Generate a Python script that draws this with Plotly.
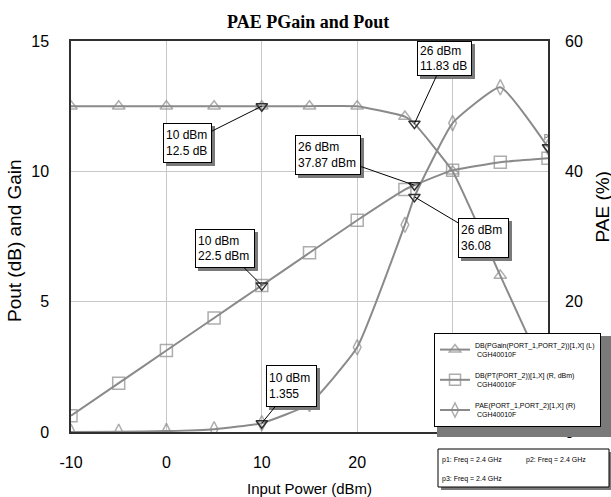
import plotly.graph_objects as go

# ---------------- data ----------------
chart_title = "PAE PGain and Pout"
pin_dbm = [-10, -5, 0, 5, 10, 15, 20, 25, 26, 30, 35, 40]
gain_db = [12.5, 12.5, 12.5, 12.5, 12.5, 12.5, 12.5, 12.1, 11.83, 10.0, 6.0, 2.0]
pout_dbm = [2.5, 7.5, 12.5, 17.5, 22.5, 27.5, 32.5, 37.2, 37.87, 40.15, 41.4, 42.0]
pae_pct = [0.014, 0.043, 0.136, 0.43, 1.355, 4.3, 13.0, 31.8, 36.08, 47.4, 52.9, 43.7]
symbol_at = [-10, -5, 0, 5, 10, 15, 20, 25, 30, 35, 40]

mk_pin = [10, 26]
mk_gain = [12.5, 11.83]
mk_pout = [22.5, 37.87]
mk_pae = [1.355, 36.08]
p3_pin = [40]
p3_pae = [43.7]

x_ticks = [-10, 0, 10, 20, 30, 40]
x_ticktext = ["-10", "0", "10", "20", "", ""]
y_left_ticks = [0, 5, 10, 15]
y_right_ticks = [0, 20, 40, 60]

legend_names = [
    "DB(PGain(PORT_1,PORT_2))[1,X] (L)<br> CGH40010F",
    "DB(PT(PORT_2))[1,X] (R, dBm)<br> CGH40010F",
    "PAE(PORT_1,PORT_2)[1,X] (R)<br> CGH40010F",
]
freq_text = ["p1: Freq = 2.4 GHz", "p2: Freq = 2.4 GHz", "p3: Freq = 2.4 GHz"]

# ---------------- layout helpers ----------------
W, H = 611, 497
L, R, T, B = 71, 63, 41, 65
PW, PH = W - L - R, H - T - B


def px(xp):
    return (xp - L) / PW


def py(yp):
    return (H - B - yp) / PH


SANS = "Liberation Sans, Arial, sans-serif"
SERIF = "Liberation Serif, Times New Roman, serif"
GRAY = "#8a8a8a"
DARK = "#303030"
SHADOW = "#7a7a7a"

sizes = [1 if p in symbol_at else 0 for p in pin_dbm]

fig = go.Figure()
series = [
    (gain_db, "y", "triangle-up-open", legend_names[0], 11),
    (pout_dbm, "y2", "square-open", legend_names[1], 12),
    (pae_pct, "y2", "diamond-tall-open", legend_names[2], 11),
]
for i, (vals, yax, sym, name, msz) in enumerate(series):
    fig.add_trace(go.Scatter(
        x=pin_dbm, y=vals, yaxis=yax, name=name, mode="lines+markers",
        line=dict(color=GRAY, width=2, shape="spline", smoothing=0.4),
        marker=dict(symbol=sym, size=[msz * s for s in sizes],
                    color=GRAY, line=dict(color=GRAY, width=1.5)),
        legendgroup=f"g{i}",
    ))

mk_style = dict(symbol="triangle-down-open", size=10, color=DARK, line=dict(color=DARK, width=1.5))
fig.add_trace(go.Scatter(x=mk_pin, y=mk_gain, yaxis="y", mode="markers",
                         marker=mk_style, showlegend=False, hoverinfo="skip"))
fig.add_trace(go.Scatter(x=mk_pin, y=mk_pout, yaxis="y2", mode="markers",
                         marker=mk_style, showlegend=False, hoverinfo="skip"))
fig.add_trace(go.Scatter(x=mk_pin, y=mk_pae, yaxis="y2", mode="markers",
                         marker=mk_style, showlegend=False, hoverinfo="skip"))
fig.add_trace(go.Scatter(x=p3_pin, y=p3_pae, yaxis="y2", mode="markers+text",
                         text=["p3"], textposition="top center",
                         textfont=dict(family=SANS, size=7, color=DARK),
                         marker=mk_style, showlegend=False, hoverinfo="skip"))

# ---------------- marker label boxes ----------------
# (x, y, yref, text, ax, ay, box width, box height)
labels = [
    (mk_pin[0], mk_gain[0], "y", f"{mk_pin[0]} dBm<br>{mk_gain[0]} dB", -74, 37, 49, 40),
    (mk_pin[0], mk_pout[0], "y2", f"{mk_pin[0]} dBm<br>{mk_pout[0]} dBm", -37, -37, 60, 39),
    (mk_pin[0], mk_pae[0], "y2", f"{mk_pin[0]} dBm<br>{mk_pae[0]}", 30, -37, 51, 42),
    (mk_pin[1], mk_gain[1], "y", f"{mk_pin[1]} dBm<br>{mk_gain[1]} dB", 30, -65, 55, 35),
    (mk_pin[1], mk_pout[1], "y2", f"{mk_pin[1]} dBm<br>{mk_pout[1]} dBm", -86, -30, 66, 40),
    (mk_pin[1], mk_pae[1], "y2", f"{mk_pin[1]} dBm<br>{mk_pae[1]}", 69, 41, 51, 40),
]
LBL_FONT = 12
PAD = 2
annotations = []
for (x, y, yref, txt, ax, ay, bw, bh) in labels:
    annotations.append(dict(x=x, y=y, xref="x", yref=yref, text=" ", ax=ax, ay=ay,
                            width=bw - 2 * PAD - 2, height=bh - 2 * PAD - 2,
                            borderpad=PAD, borderwidth=1,
                            showarrow=True, arrowcolor="rgba(0,0,0,0)",
                            bgcolor=SHADOW, bordercolor=SHADOW,
                            font=dict(family=SANS, size=LBL_FONT, color=SHADOW),
                            xshift=3, yshift=-3))
for (x, y, yref, txt, ax, ay, bw, bh) in labels:
    annotations.append(dict(x=x, y=y, xref="x", yref=yref, text=txt, ax=ax, ay=ay,
                            width=bw - 2 * PAD - 2, height=bh - 2 * PAD - 2,
                            align="left", borderpad=PAD, borderwidth=1,
                            showarrow=True, arrowhead=0, arrowwidth=1, arrowcolor="black",
                            bgcolor="white", bordercolor="black",
                            font=dict(family=SANS, size=LBL_FONT, color="black")))


def paper_text(text, xp, yp, size, family=SANS, xanchor="center", yanchor="middle", angle=0):
    return dict(text=text, x=px(xp), y=py(yp), xref="paper", yref="paper",
                xanchor=xanchor, yanchor=yanchor, textangle=angle, showarrow=False,
                font=dict(family=family, size=size, color="black"))


annotations.append(paper_text(f"<b>{chart_title}</b>", 308, 22, 18, family=SERIF))
annotations.append(paper_text("Input Power (dBm)", 309, 488, 15))
annotations.append(paper_text("Pout (dB) and Gain", 15, 241, 19, angle=-90))
annotations.append(paper_text("PAE (%)", 602, 245, 19, yanchor="bottom", angle=-90))
annotations.append(paper_text(freq_text[0], 440, 460, 7, xanchor="left"))
annotations.append(paper_text(freq_text[1], 524, 460, 7, xanchor="left"))
annotations.append(paper_text(freq_text[2], 440, 479, 7, xanchor="left"))

shapes = [
    # legend shadow
    dict(type="rect", xref="paper", yref="paper", x0=px(437), x1=px(614), y0=py(437), y1=py(336),
         fillcolor=SHADOW, line=dict(width=0), layer="above"),
    # freq box shadow and box
    dict(type="rect", xref="paper", yref="paper", x0=px(441), x1=px(614), y0=py(490), y1=py(452),
         fillcolor=SHADOW, line=dict(width=0), layer="above"),
    dict(type="rect", xref="paper", yref="paper", x0=px(438), x1=px(609), y0=py(487), y1=py(449),
         fillcolor="white", line=dict(color="black", width=1), layer="above"),
]

axis_font = dict(family=SANS, size=16, color="black")
fig.update_layout(
    width=W, height=H,
    margin=dict(l=L, r=R, t=T, b=B, autoexpand=False),
    paper_bgcolor="white", plot_bgcolor="white",
    showlegend=True,
    legend=dict(x=px(434), y=py(333), xanchor="left", yanchor="top",
                bgcolor="white", bordercolor="black", borderwidth=1,
                font=dict(family=SANS, size=7, color="black"),
                itemwidth=30, tracegroupgap=9, itemclick=False),
    xaxis=dict(range=[-10, 40], tickvals=x_ticks, ticktext=x_ticktext, tickfont=axis_font,
               showgrid=True, gridcolor="#c8c8c8", gridwidth=1, zeroline=False,
               showline=True, linecolor=DARK, linewidth=1.5, mirror=True,
               ticks="", ticklabelstandoff=15),
    yaxis=dict(range=[0, 15], tickvals=y_left_ticks, tickfont=axis_font,
               showgrid=True, gridcolor="#c8c8c8", gridwidth=1, zeroline=False,
               showline=True, linecolor=DARK, linewidth=1.5, mirror=True,
               ticks="", ticklabelstandoff=17),
    yaxis2=dict(range=[0, 60], tickvals=y_right_ticks, tickfont=axis_font,
                overlaying="y", side="right", showgrid=False, zeroline=False,
                showline=False, ticks="", ticklabelstandoff=16),
    annotations=annotations,
    shapes=shapes,
)

fig.write_html("out.html")
